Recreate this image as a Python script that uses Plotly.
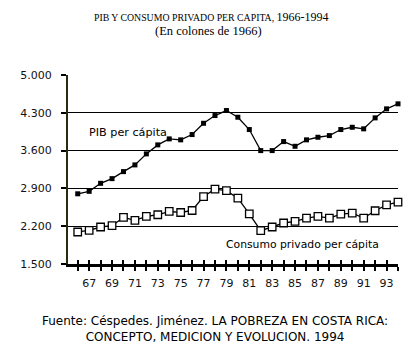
import plotly.graph_objects as go

years = list(range(1966, 1995))
pib = [2800, 2846, 2994, 3081, 3211, 3335, 3539, 3706, 3817, 3799,
       3897, 4106, 4249, 4342, 4218, 3990, 3600, 3600, 3767, 3680,
       3799, 3847, 3878, 3990, 4032, 4003, 4206, 4373, 4466]
consumo = [2093, 2123, 2185, 2209, 2362, 2307, 2381, 2412, 2473, 2454,
           2491, 2749, 2885, 2859, 2719, 2430, 2117, 2185, 2259, 2288,
           2351, 2381, 2351, 2425, 2443, 2351, 2486, 2596, 2646]
y_ticks = [1500, 2200, 2900, 3600, 4300, 5000]
y_tick_text = ["1.500", "2.200", "2.900", "3.600", "4.300", "5.000"]
x_tick_text = [str(y % 100) if (y % 2 == 1) else "" for y in years]

fig = go.Figure()
fig.add_trace(go.Scatter(
    x=years, y=pib, mode="lines+markers", cliponaxis=False,
    line=dict(color="black", width=1.3),
    marker=dict(symbol="square", size=5, color="black"),
    showlegend=False))
fig.add_trace(go.Scatter(
    x=years, y=consumo, mode="lines+markers", cliponaxis=False,
    line=dict(color="black", width=1.3),
    marker=dict(symbol="square", size=7.5, color="white",
                line=dict(color="black", width=1.3)),
    showlegend=False))
# helper invisible trace on overlay axis for crossing tick marks
fig.add_trace(go.Scatter(x=years, y=consumo, xaxis="x2", mode="none",
                         showlegend=False, hoverinfo="skip"))

# the page body has an 8px margin, so the figure is 8px smaller each way
W, H = 412, 349
L, R, T, B = 51.5, 21.5, 66.5, 92.7
PW, PH = W - L - R, H - T - B


def px(sx):
    return (sx - 8 - L) / PW


def py(sy):
    return (H - B - (sy - 8)) / PH


xr = [1965.15, 1994]
fig.update_layout(
    width=W, height=H,
    margin=dict(l=L, r=R, t=T, b=B, pad=0),
    paper_bgcolor="white", plot_bgcolor="white",
    font=dict(family="DejaVu Sans", size=11, color="#111"),
    xaxis=dict(range=xr, tickmode="array", tickvals=years, ticktext=x_tick_text,
               ticks="outside", ticklen=4, tickwidth=2, tickcolor="black",
               showline=True, linecolor="black", linewidth=3,
               showgrid=False, zeroline=False, ticklabelstandoff=3,
               tickfont=dict(family="DejaVu Sans", size=11, color="#111")),
    xaxis2=dict(range=xr, overlaying="x", anchor="y", side="bottom",
                tickmode="array", tickvals=years, showticklabels=False,
                ticks="inside", ticklen=4, tickwidth=2, tickcolor="black",
                showline=False, showgrid=False, zeroline=False),
    yaxis=dict(range=[1500, 5000], tickmode="array", tickvals=y_ticks,
               ticktext=y_tick_text, ticks="outside", ticklen=5,
               tickcolor="black", tickwidth=1.5,
               showline=True, linecolor="#2a2a10", linewidth=2,
               showgrid=True, gridcolor="black", gridwidth=1.3,
               zeroline=False, ticklabelstandoff=7,
               tickfont=dict(family="DejaVu Sans", size=11, color="#111")),
    showlegend=False,
)

fig.add_annotation(
    text='<span style="font-size:9.8px">PIB Y CONSUMO PRIVADO PER CAPITA, </span>1966-1994',
    xref="paper", yref="paper", x=px(207), y=py(16), xanchor="center", yanchor="middle",
    showarrow=False, font=dict(family="Liberation Serif", size=12, color="black"))
fig.add_annotation(
    text="(En colones de 1966)", xref="paper", yref="paper",
    x=px(203.5), y=py(30), xanchor="center", yanchor="middle", showarrow=False,
    font=dict(family="Liberation Serif", size=12.5, color="black"))

fig.add_annotation(text="PIB per cápita", x=1970.4, y=3930, xref="x", yref="y",
                   xanchor="center", yanchor="middle", showarrow=False,
                   font=dict(family="DejaVu Sans", size=11.2, color="black"))
fig.add_annotation(text="Consumo privado per cápita", x=1985.66, y=1856, xref="x", yref="y",
                   xanchor="center", yanchor="middle", showarrow=False,
                   font=dict(family="DejaVu Sans", size=10.8, color="black"))

fig.add_annotation(text="Fuente: Céspedes. Jiménez. LA POBREZA EN COSTA RICA:<br>"
                        "CONCEPTO, MEDICION Y EVOLUCION. 1994",
                   xref="paper", yref="paper", x=px(210), y=py(330),
                   xanchor="center", yanchor="middle", showarrow=False,
                   font=dict(family="DejaVu Sans", size=12, color="black"))

fig.write_html("out.html")
